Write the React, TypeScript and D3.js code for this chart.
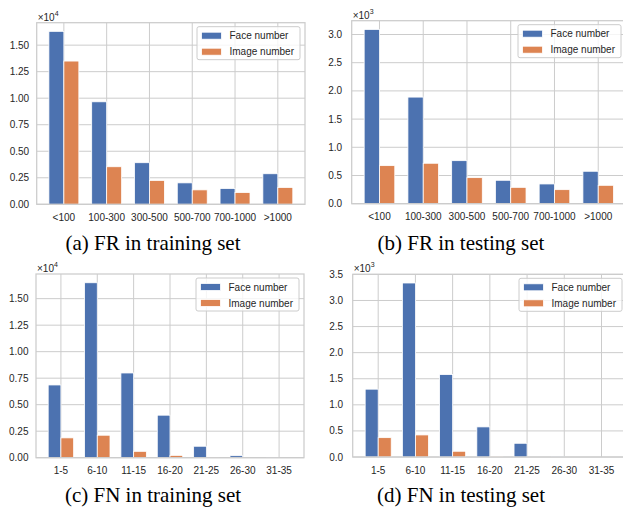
import React from 'react';
import * as d3 from 'd3';

const frCats = ['<100', '100-300', '300-500', '500-700', '700-1000', '>1000'];
const frTrainFace = [16300, 9660, 3920, 2020, 1490, 2880];
const frTrainImage = [13500, 3540, 2250, 1360, 1110, 1590];
const frTestFace = [3090, 1890, 763, 415, 350, 575];
const frTestImage = [675, 717, 462, 290, 249, 326];

const fnCats = ['1-5', '6-10', '11-15', '16-20', '21-25', '26-30', '31-35'];
const fnTrainFace = [6860, 16500, 7990, 4010, 1080, 190, 10];
const fnTrainImage = [1870, 2120, 600, 220, 10, 0, 0];
const fnTestFace = [1300, 3335, 1580, 577, 263, 5, 0];
const fnTestImage = [371, 423, 110, 5, 0, 0, 0];

const trainTicks = [0, 0.25, 0.5, 0.75, 1.0, 1.25, 1.5];
const testTicksFR = [0, 0.5, 1.0, 1.5, 2.0, 2.5, 3.0];
const testTicksFN = [0, 0.5, 1.0, 1.5, 2.0, 2.5, 3.0, 3.5];

const seriesNames = ['Face number', 'Image number'];
const BLUE = '#4c72b0';
const ORANGE = '#dd8452';
const GRID = '#cccccc';
const TXT = '#262626';
const SANS = '"Liberation Sans", Arial, sans-serif';
const SERIF = '"Liberation Serif", "Times New Roman", serif';

type PanelProps = {
  box: { l: number; t: number; r: number; b: number };
  cats: string[];
  face: number[];
  image: number[];
  ticks: number[];
  exp: number;
  decimals: number;
  labelGap: number;
  caption: string;
  capX: number;
  capY: number;
};

const Panel = ({ box, cats, face, image, ticks, exp, decimals, labelGap, caption, capX, capY }: PanelProps) => {
  const w = 0.35;
  const n = cats.length;
  const pad = 0.05 * (n - 1 + 2 * w);
  const x = d3.scaleLinear().domain([-w - pad, n - 1 + w + pad]).range([box.l, box.r]);
  const scale = Math.pow(10, exp);
  const ymax = (d3.max(face.concat(image)) as number) * 1.05;
  const y = d3.scaleLinear().domain([0, ymax]).range([box.b, box.t]);
  const fmt = d3.format(`.${decimals}f`);
  const bw = x(w) - x(0);
  const id = `clip-${caption.slice(1, 2)}`;

  return (
    <g>
      <defs>
        <clipPath id={id}>
          <rect x={box.l} y={box.t} width={box.r - box.l} height={box.b - box.t} />
        </clipPath>
      </defs>
      {/* grid */}
      {ticks.map((t) => (
        <line key={`h${t}`} x1={box.l} x2={box.r} y1={y(t * scale)} y2={y(t * scale)} stroke={GRID} strokeWidth={1} />
      ))}
      {cats.map((c, i) => (
        <line key={`v${c}`} x1={x(i)} x2={x(i)} y1={box.t} y2={box.b} stroke={GRID} strokeWidth={1} />
      ))}
      {/* bars */}
      <g clipPath={`url(#${id})`}>
        {face.map((v, i) => (
          <rect key={`f${i}`} x={x(i - w)} y={y(v)} width={bw} height={box.b - y(v)} fill={BLUE} stroke="#ffffff" strokeWidth={0.8} />
        ))}
        {image.map((v, i) => (
          <rect key={`m${i}`} x={x(i)} y={y(v)} width={bw} height={box.b - y(v)} fill={ORANGE} stroke="#ffffff" strokeWidth={0.8} />
        ))}
      </g>
      {/* spines */}
      <rect x={box.l} y={box.t} width={box.r - box.l} height={box.b - box.t} fill="none" stroke={GRID} strokeWidth={1.25} />
      {/* tick labels */}
      {ticks.map((t) => (
        <text key={`yl${t}`} x={box.l - labelGap} y={y(t * scale)} dy="0.35em" textAnchor="end" fontFamily={SANS} fontSize={10} fill={TXT}>
          {fmt(t)}
        </text>
      ))}
      {cats.map((c, i) => (
        <text key={`xl${c}`} x={x(i)} y={box.b + 13} dy="0.35em" textAnchor="middle" fontFamily={SANS} fontSize={10} fill={TXT}>
          {c}
        </text>
      ))}
      {/* offset text */}
      <text x={box.l + 1} y={box.t - 2} fontFamily={SANS} fontSize={10} fill={TXT}>
        ×10
        <tspan dy={-5} fontSize={7}>{exp}</tspan>
      </text>
      {/* legend */}
      <g transform={`translate(${box.r - 108},${box.t + 4})`}>
        <rect x={0} y={0} width={103} height={33} rx={2} fill="#ffffff" fillOpacity={0.8} stroke={GRID} strokeWidth={1} />
        {seriesNames.map((s, i) => (
          <g key={s} transform={`translate(4.5,${9 + i * 16})`}>
            <rect x={0} y={-3.5} width={20} height={7} fill={i === 0 ? BLUE : ORANGE} stroke="#ffffff" strokeWidth={0.8} />
            <text x={28} y={0} dy="0.35em" fontFamily={SANS} fontSize={10} fill={TXT}>
              {s}
            </text>
          </g>
        ))}
      </g>
      {/* caption */}
      <text x={capX} y={capY} textAnchor="middle" fontFamily={SERIF} fontSize={21} fill="#000000">
        {caption}
      </text>
    </g>
  );
};

export default function App() {
  return (
    <svg width={623} height={508} style={{ position: 'absolute', left: 0, top: 0, background: '#ffffff' }}>
      <rect width={623} height={508} fill="#ffffff" />
      <Panel box={{ l: 36.7, t: 22.7, r: 305, b: 204.3 }} cats={frCats} face={frTrainFace} image={frTrainImage}
        ticks={trainTicks} exp={4} decimals={2} labelGap={7.5} caption="(a) FR in training set" capX={153} capY={249.5} />
      <Panel box={{ l: 351.7, t: 20.7, r: 626, b: 203.7 }} cats={frCats} face={frTestFace} image={frTestImage}
        ticks={testTicksFR} exp={3} decimals={1} labelGap={9.5} caption="(b) FR in testing set" capX={461} capY={249.5} />
      <Panel box={{ l: 36, t: 274, r: 304, b: 457.7 }} cats={fnCats} face={fnTrainFace} image={fnTrainImage}
        ticks={trainTicks} exp={4} decimals={2} labelGap={7.5} caption="(c) FN in training set" capX={153} capY={502} />
      <Panel box={{ l: 352.7, t: 274.3, r: 627, b: 457 }} cats={fnCats} face={fnTestFace} image={fnTestImage}
        ticks={testTicksFN} exp={3} decimals={1} labelGap={9.5} caption="(d) FN in testing set" capX={461} capY={502} />
    </svg>
  );
}
